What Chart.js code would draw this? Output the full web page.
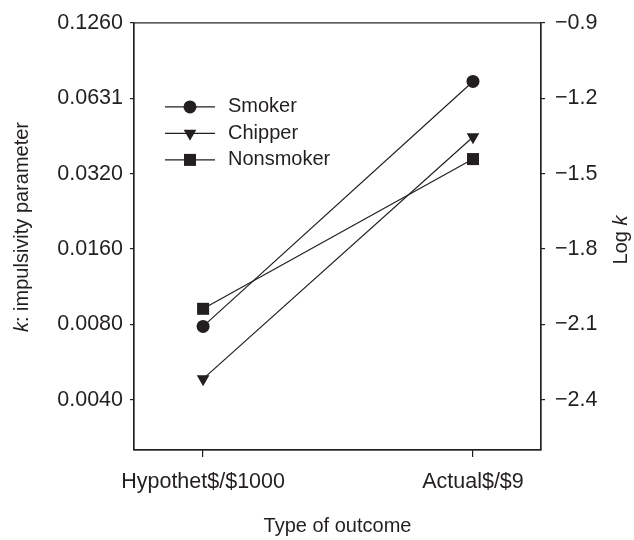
<!DOCTYPE html>
<html>
<head>
<meta charset="utf-8">
<script src="https://cdn.jsdelivr.net/npm/chart.js@4"></script>
<style>
  body { margin: 0; background: #fff; }
  #wrap { width: 634px; height: 540px; }
</style>
</head>
<body>
<div id="wrap"><canvas id="myChart"></canvas></div>
<script>
/** Data (values are log10 k) */

let categories = ["Hypothet$/$1000", "Actual$/$9"];
let seriesNames = ["Smoker", "Chipper", "Nonsmoker"];
let smoker = [-2.108, -1.133];
let chipper = [-2.317, -1.354];
let nonsmoker = [-2.038, -1.442];

let logTicks = [-2.4, -2.1, -1.8, -1.5, -1.2, -0.9];
let kTickLabels = ["0.0040", "0.0080", "0.0160", "0.0320", "0.0631", "0.1260"];
let logTickLabels = ["\u22122.4", "\u22122.1", "\u22121.8", "\u22121.5", "\u22121.2", "\u22120.9"];

/** Style */

const ink = "#231f20";
const family = "'Liberation Sans', Arial, sans-serif";
const tickFont = { family: family, size: 21.5 };

function points(values) {
  return values.map((v, i) => ({ x: i, y: v }));
}

function dataset(label, values, style, rotation, radius) {
  return {
    label: label,
    data: points(values),
    borderColor: ink,
    backgroundColor: ink,
    borderWidth: 1.2,
    pointStyle: style,
    rotation: rotation,
    pointRadius: radius,
    pointBorderWidth: 0,
    pointBackgroundColor: ink,
  };
}

// box, legend and axis titles drawn by hand
const extras = {
  id: "extras",
  afterDraw(chart) {
    const c = chart.ctx;
    const a = chart.chartArea;
    c.save();
    c.strokeStyle = ink;
    c.fillStyle = ink;
    c.lineWidth = 1.2;
    c.strokeRect(a.left, a.top, a.right - a.left, a.bottom - a.top);

    c.font = "20px " + family;
    c.textBaseline = "middle";
    chart.data.datasets.forEach((ds, i) => {
      let y = a.top + 84 + i * 26.5;
      let x0 = a.left + 31;
      c.beginPath();
      c.moveTo(x0, y);
      c.lineTo(x0 + 50, y);
      c.stroke();
      Chart.helpers.drawPoint(c, { pointStyle: ds.pointStyle, rotation: ds.rotation, radius: ds.pointRadius, borderWidth: 0 }, x0 + 25, y);
      c.textAlign = "left";
      c.fillText(ds.label, x0 + 63, y);
    });

    // x title
    c.textAlign = "center";
    c.fillText("Type of outcome", (a.left + a.right) / 2, 526);

    // y titles with italic k
    function sideTitle(x, y, before, after) {
      c.save();
      c.translate(x, y);
      c.rotate(-Math.PI / 2);
      c.font = "20px " + family;
      let w1 = c.measureText(before).width;
      let w2 = c.measureText(after).width;
      c.font = "italic 20px " + family;
      let wk = c.measureText("k").width;
      let start = -(w1 + wk + w2) / 2;
      c.textAlign = "left";
      c.font = "20px " + family;
      if (before) c.fillText(before, start, 0);
      c.font = "italic 20px " + family;
      c.fillText("k", start + w1, 0);
      c.font = "20px " + family;
      if (after) c.fillText(after, start + w1 + wk, 0);
      c.restore();
    }
    sideTitle(22, 227, "", ": impulsivity parameter");
    sideTitle(621, 240, "Log ", "");
    c.restore();
  },
};

/** Chart */

let myChart = document.getElementById("myChart").getContext("2d");

let chart = new Chart(myChart, {
  type: "line",
  data: {
    datasets: [
      dataset(seriesNames[0], smoker, "circle", 0, 6.5),
      dataset(seriesNames[1], chipper, "triangle", 180, 7.3),
      dataset(seriesNames[2], nonsmoker, "rect", 0, 8.5),
    ],
  },
  plugins: [extras],
  options: {
    responsive: true,
    maintainAspectRatio: false,
    animation: false,
    layout: { padding: { top: 20, left: 0, right: 0, bottom: 0 } },
    plugins: {
      legend: { display: false },
      tooltip: { enabled: false },
    },
    scales: {
      x: {
        type: "linear",
        min: -0.256,
        max: 1.252,
        afterBuildTicks: (s) => { s.ticks = categories.map((c, i) => ({ value: i })); },
        afterFit: (s) => { s.height = 90; },
        ticks: {
          callback: (v, i) => categories[i],
          color: ink,
          font: tickFont,
          padding: 12,
          maxRotation: 0,
          autoSkip: false,
        },
        grid: { drawOnChartArea: false, color: ink, tickColor: ink, tickLength: 7, lineWidth: 1.2 },
        border: { color: ink, width: 1.2 },
      },
      y: {
        position: "left",
        min: -2.6,
        max: -0.9,
        afterBuildTicks: (s) => { s.ticks = logTicks.map((v) => ({ value: v })); },
        afterFit: (s) => { s.width = 134; },
        ticks: {
          callback: (v, i) => kTickLabels[i],
          color: ink,
          font: tickFont,
          padding: 7,
          autoSkip: false,
        },
        grid: { drawOnChartArea: false, color: ink, tickColor: ink, tickLength: 4, lineWidth: 1.2 },
        border: { color: ink, width: 1.2 },
      },
      y2: {
        position: "right",
        min: -2.6,
        max: -0.9,
        afterBuildTicks: (s) => { s.ticks = logTicks.map((v) => ({ value: v })); },
        afterFit: (s) => { s.width = 93; },
        ticks: {
          callback: (v, i) => logTickLabels[i],
          color: ink,
          font: tickFont,
          padding: 10,
          autoSkip: false,
        },
        grid: { drawOnChartArea: false, color: ink, tickColor: ink, tickLength: 4, lineWidth: 1.2 },
        border: { color: ink, width: 1.2 },
      },
    },
  },
});
</script>
</body>
</html>
